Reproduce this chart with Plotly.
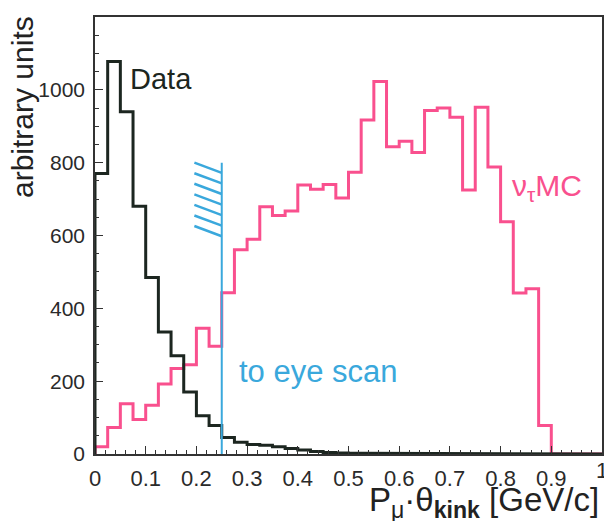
import numpy as np
import plotly.graph_objects as go

# ---- data ----
bin_width = 0.025
data_counts = [770, 1078, 940, 680, 485, 335, 270, 170, 105, 78,
               45, 32, 26, 24, 20, 15, 11, 7, 4, 3,
               2, 2, 1, 1, 0, 0, 0, 0, 0, 0,
               0, 0, 0, 0, 0, 0, 0, 0, 0, 0]
mc_counts = [20, 73, 138, 95, 134, 192, 235, 245, 345, 296,
             443, 561, 590, 679, 655, 667, 739, 727, 740, 703,
             774, 917, 1023, 844, 859, 828, 943, 950, 925, 725,
             952, 788, 638, 442, 454, 78, 0, 0, 0, 0]
cut_value = 0.25
cut_top = 800
hatch_levels = [800, 771, 742, 713, 684, 655, 626]
hatch_dx = 0.054
hatch_dy = 28

x_ticks = [0, 0.1, 0.2, 0.3, 0.4, 0.5, 0.6, 0.7, 0.8, 0.9]
x_ticklabels = ["0", "0.1", "0.2", "0.3", "0.4", "0.5", "0.6", "0.7", "0.8", "0.9"]
x_last_tick = 1
x_last_label = "1"
y_ticks = [0, 200, 400, 600, 800, 1000]

BLACK = "#1c2620"
PINK = "#f9508e"
BLUE = "#3aa8dc"
FONT = "Liberation Sans, Arial, Helvetica, sans-serif"


def step_xy(counts):
    n = len(counts)
    edges = np.arange(n + 1) * bin_width
    xs = [0.0]
    ys = [0.0]
    for i, c in enumerate(counts):
        xs += [edges[i], edges[i + 1]]
        ys += [c, c]
    xs.append(edges[-1])
    ys.append(0.0)
    return xs, ys


fig = go.Figure()

mx, my = step_xy(mc_counts)
fig.add_trace(go.Scatter(x=mx, y=my, mode="lines",
                         line=dict(color=PINK, width=3), hoverinfo="skip",
                         showlegend=False, cliponaxis=False))
dx, dy = step_xy(data_counts)
fig.add_trace(go.Scatter(x=dx, y=dy, mode="lines",
                         line=dict(color=BLACK, width=3), hoverinfo="skip",
                         showlegend=False))

# cut line and hatching
fig.add_trace(go.Scatter(x=[cut_value, cut_value], y=[0, cut_top], mode="lines",
                         line=dict(color=BLUE, width=2), hoverinfo="skip",
                         showlegend=False))
hx, hy = [], []
for v in hatch_levels:
    hx += [cut_value - hatch_dx, cut_value, None]
    hy += [v, v - hatch_dy, None]
fig.add_trace(go.Scatter(x=hx, y=hy, mode="lines",
                         line=dict(color=BLUE, width=2.5), hoverinfo="skip",
                         showlegend=False))

W, H = 604, 521
L, R, T, B = 95, 2, 17, 67
pw, ph = W - L - R, H - T - B


def px(x):
    return (x - L) / pw


def py(y):
    return (H - B - y) / ph


annotations = [
    dict(text="Data", x=px(128), y=py(79), xanchor="left", yanchor="middle",
         font=dict(size=29, color=BLACK, family=FONT)),
    dict(text="ν<sub>τ</sub>MC", x=px(510), y=py(188), xanchor="left", yanchor="middle",
         font=dict(size=30, color=PINK, family=FONT)),
    dict(text="to eye scan", x=px(237), y=py(371), xanchor="left", yanchor="middle",
         font=dict(size=31, color=BLUE, family=FONT)),
    dict(text="arbitrary units", x=px(22), y=py(107), xanchor="center", yanchor="middle",
         textangle=-90, font=dict(size=30, color="#222", family=FONT)),
    dict(text="P<sub>μ</sub>·θ<sub><b>kink</b></sub> [GeV/c]", x=px(601), y=py(502),
         xanchor="right", yanchor="middle",
         font=dict(size=33, color="#222", family=FONT)),
    dict(text=x_last_label, x=x_last_tick, xref="x", y=py(470), xanchor="center",
         yanchor="middle", font=dict(size=22, color="#2a2a2a", family=FONT)),
]
for a in annotations:
    a.setdefault("xref", "paper")
    a.update(yref="paper", showarrow=False)

fig.update_layout(
    width=W, height=H,
    margin=dict(l=L, r=R, t=T, b=B, autoexpand=False),
    paper_bgcolor="white", plot_bgcolor="white",
    font=dict(family=FONT, color="#2a2a2a"),
    annotations=annotations,
    xaxis=dict(range=[0, 1], showgrid=False, zeroline=False, automargin=False,
               showline=True, linecolor="#333", linewidth=1.5, mirror=True,
               ticks="inside", ticklen=8, tickwidth=1.2, tickcolor="#333",
               tickvals=x_ticks, ticktext=x_ticklabels,
               tickfont=dict(size=22, color="#2a2a2a"),
               ticklabelstandoff=4,
               minor=dict(ticks="inside", ticklen=4, tickwidth=1, tickcolor="#333",
                          dtick=0.02, showgrid=False)),
    yaxis=dict(range=[0, 1200], showgrid=False, zeroline=False, automargin=False,
               showline=True, linecolor="#333", linewidth=1.5, mirror=True,
               ticks="inside", ticklen=8, tickwidth=1.2, tickcolor="#333",
               tickvals=y_ticks,
               tickfont=dict(size=21, color="#2a2a2a"),
               ticklabelstandoff=4,
               minor=dict(ticks="inside", ticklen=4, tickwidth=1, tickcolor="#333",
                          dtick=50, showgrid=False)),
)

fig.write_html("out.html", config={"displayModeBar": False},
               post_script="document.body.style.margin='0px';"
                           "document.body.style.overflow='hidden';")
